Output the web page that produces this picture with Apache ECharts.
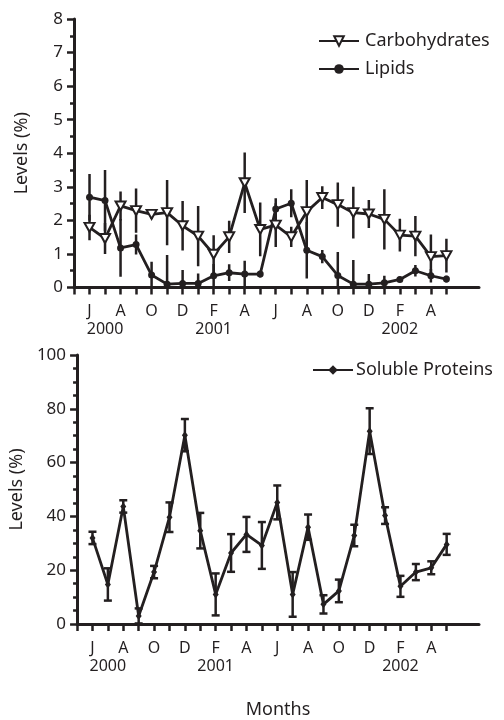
<!DOCTYPE html>
<html>
<head>
<meta charset="utf-8">
<script src="https://cdn.jsdelivr.net/npm/echarts@6/dist/echarts.min.js"></script>
<style>
html,body{margin:0;padding:0;background:#fff;}
#chart{width:504px;height:720px;}
</style>
</head>
<body>
<div id="chart"></div>
<script>
// Months Jun 2000 .. May 2002 (index 0..23)
var monthLetters = ['J','J','A','S','O','N','D','J','F','M','A','M','J','J','A','S','O','N','D','J','F','M','A','M'];
var labelIndices = [0,2,4,6,8,10,12,14,16,18,20,22];
var yearLabels = ['2000','2001','2002'];
var yearIndices = [1,8,20];

var carbohydrates = [1.79,1.46,2.43,2.29,2.18,2.23,1.84,1.53,0.99,1.51,3.12,1.73,1.86,1.51,2.26,2.68,2.47,2.23,2.19,2.03,1.56,1.53,0.92,0.95];
var carbohydratesErr = [0.38,0.46,0.43,0.66,0.13,0.97,0.74,0.90,0.57,0.48,0.90,0.80,0.65,0.30,0.94,0.34,0.66,0.77,0.42,0.90,0.49,0.60,0.66,0.50];
var lipids = [2.69,2.59,1.18,1.28,0.37,0.10,0.12,0.12,0.35,0.44,0.40,0.40,2.34,2.51,1.11,0.92,0.36,0.10,0.10,0.14,0.24,0.50,0.35,0.25];
var lipidsErr = [0.69,0.91,0.86,0.30,0.40,0.87,0.40,0.30,0.35,0.25,0.40,0.10,0.32,0.42,0.84,0.20,0.70,0.72,0.30,0.21,0.08,0.17,0.20,0.10];
var proteins = [32.0,14.7,43.7,3.0,19.3,39.7,70.2,34.7,11.0,26.4,33.3,29.2,45.2,11.0,36.0,7.3,12.3,32.9,71.7,40.3,14.0,19.3,20.9,29.6];
var proteinsErr = [2.3,6.0,2.3,2.8,2.3,5.5,6.0,6.6,7.8,7.0,6.5,8.7,6.3,8.3,4.7,3.4,4.2,4.0,8.5,3.1,3.9,3.0,2.4,3.9];

var INK = '#231f20';
var FONT = 'Noto Sans';

function pairs(arr){ return arr.map(function(v,i){ return [i, v]; }); }
function triples(arr, err){ return arr.map(function(v,i){ return [i, v, err[i]]; }); }

var tickIdx = [];
for (var t = -1; t < monthLetters.length; t++) tickIdx.push(t);

function monthLabel(v){ return monthLetters[Math.round(v)] || ''; }
function yearLabel(v){
  var k = yearIndices.indexOf(Math.round(v));
  return k >= 0 ? yearLabels[k] : '';
}

function errRender(cap){
  return function(params, api){
    var x = api.value(0), y = api.value(1), e = api.value(2);
    var lo = Math.max(y - e, 0);
    var top = api.coord([x, y + e]);
    var bot = api.coord([x, lo]);
    var children = [{type:'line', shape:{x1:top[0], y1:top[1], x2:bot[0], y2:bot[1]}, style:{stroke:INK, lineWidth:2.5}}];
    if (cap) {
      children.push({type:'line', shape:{x1:top[0]-4, y1:top[1], x2:top[0]+4, y2:top[1]}, style:{stroke:INK, lineWidth:2.5}});
      children.push({type:'line', shape:{x1:bot[0]-4, y1:bot[1], x2:bot[0]+4, y2:bot[1]}, style:{stroke:INK, lineWidth:2.5}});
    }
    return {type:'group', children:children};
  };
}

function makeX(grid, withName){
  var ax = {
    type:'value', gridIndex:grid, min:-1, max:25.1, interval:1, position:'bottom',
    axisLine:{show:true, onZero:false, lineStyle:{color:INK, width:3}},
    axisTick:{show:true, customValues:tickIdx, length:7, inside:false, lineStyle:{color:INK, width:2.5}},
    axisLabel:{show:true, customValues:labelIndices, formatter:monthLabel, hideOverlap:false, color:INK, fontFamily:FONT, fontSize:16, margin:16},
    splitLine:{show:false}
  };
  if (withName) {
    ax.name = 'Months';
    ax.nameLocation = 'middle';
    ax.nameGap = 77;
    ax.nameTextStyle = {color:INK, fontFamily:FONT, fontSize:18};
  }
  return ax;
}
function makeYearX(grid){
  return {
    type:'value', gridIndex:grid, min:-1, max:25.1, interval:1, position:'bottom', offset:0,
    axisLine:{show:false, onZero:false}, axisTick:{show:false},
    axisLabel:{show:true, customValues:yearIndices, formatter:yearLabel, hideOverlap:false, color:INK, fontFamily:FONT, fontSize:16, margin:34},
    splitLine:{show:false}
  };
}

function makeY(grid, max, interval, minorSplit){
  return {
    type:'value', gridIndex:grid, min:0, max:max, interval:interval,
    name:'Levels (%)', nameLocation:'middle', nameGap:43, nameRotate:90,
    nameTextStyle:{color:INK, fontFamily:FONT, fontSize:18},
    axisLine:{show:true, onZero:false, lineStyle:{color:INK, width:3}},
    axisTick:{show:true, length:7, lineStyle:{color:INK, width:2.5}},
    minorTick:{show:true, splitNumber:minorSplit, length:4, lineStyle:{color:INK, width:2.5}},
    axisLabel:{color:INK, fontFamily:FONT, fontSize:17, margin:11},
    splitLine:{show:false}, minorSplitLine:{show:false}
  };
}

var chart = echarts.init(document.getElementById('chart'), null, {renderer:'canvas'});
chart.setOption({
  animation:false,
  backgroundColor:'#fff',
  grid:[
    {left:74, right:25, top:19, bottom:432.5},
    {left:74, right:25, top:355, bottom:94.3}
  ],
  xAxis:[makeX(0,false), makeX(1,true), makeYearX(0), makeYearX(1)],
  yAxis:[makeY(0,8,1,2), makeY(1,100,20,4)],
  legend:[
    {orient:'vertical', left:318, top:32, padding:0, itemWidth:40, itemHeight:12, itemGap:10,
     textStyle:{color:INK, fontFamily:FONT, fontSize:18, padding:[0,0,0,1]}, data:['Carbohydrates','Lipids']},
    {orient:'vertical', left:312, top:361, padding:0, itemWidth:40, itemHeight:12,
     textStyle:{color:INK, fontFamily:FONT, fontSize:18, padding:[0,0,0,-2]}, data:['Soluble Proteins']}
  ],
  series:[
    {type:'custom', name:'carbErr', xAxisIndex:0, yAxisIndex:0, renderItem:errRender(false), data:triples(carbohydrates, carbohydratesErr), z:1, clip:true},
    {type:'custom', name:'lipErr', xAxisIndex:0, yAxisIndex:0, renderItem:errRender(false), data:triples(lipids, lipidsErr), z:1, clip:true},
    {type:'line', name:'Lipids', xAxisIndex:0, yAxisIndex:0, data:pairs(lipids), symbol:'circle', symbolSize:7,
     lineStyle:{color:INK, width:2.8}, itemStyle:{color:INK, borderColor:INK, borderWidth:0}, z:3},
    {type:'line', name:'Carbohydrates', xAxisIndex:0, yAxisIndex:0, data:pairs(carbohydrates), symbol:'triangle', symbolRotate:180, symbolSize:[10,9],
     lineStyle:{color:INK, width:2.8}, itemStyle:{color:'#fff', borderColor:INK, borderWidth:2}, z:4},
    {type:'custom', name:'protErr', xAxisIndex:1, yAxisIndex:1, renderItem:errRender(true), data:triples(proteins, proteinsErr), z:1, clip:true},
    {type:'line', name:'Soluble Proteins', xAxisIndex:1, yAxisIndex:1, data:pairs(proteins), symbol:'diamond', symbolSize:[6,8],
     lineStyle:{color:INK, width:2.8}, itemStyle:{color:INK, borderColor:INK, borderWidth:0}, z:3}
  ]
});
</script>
</body>
</html>
